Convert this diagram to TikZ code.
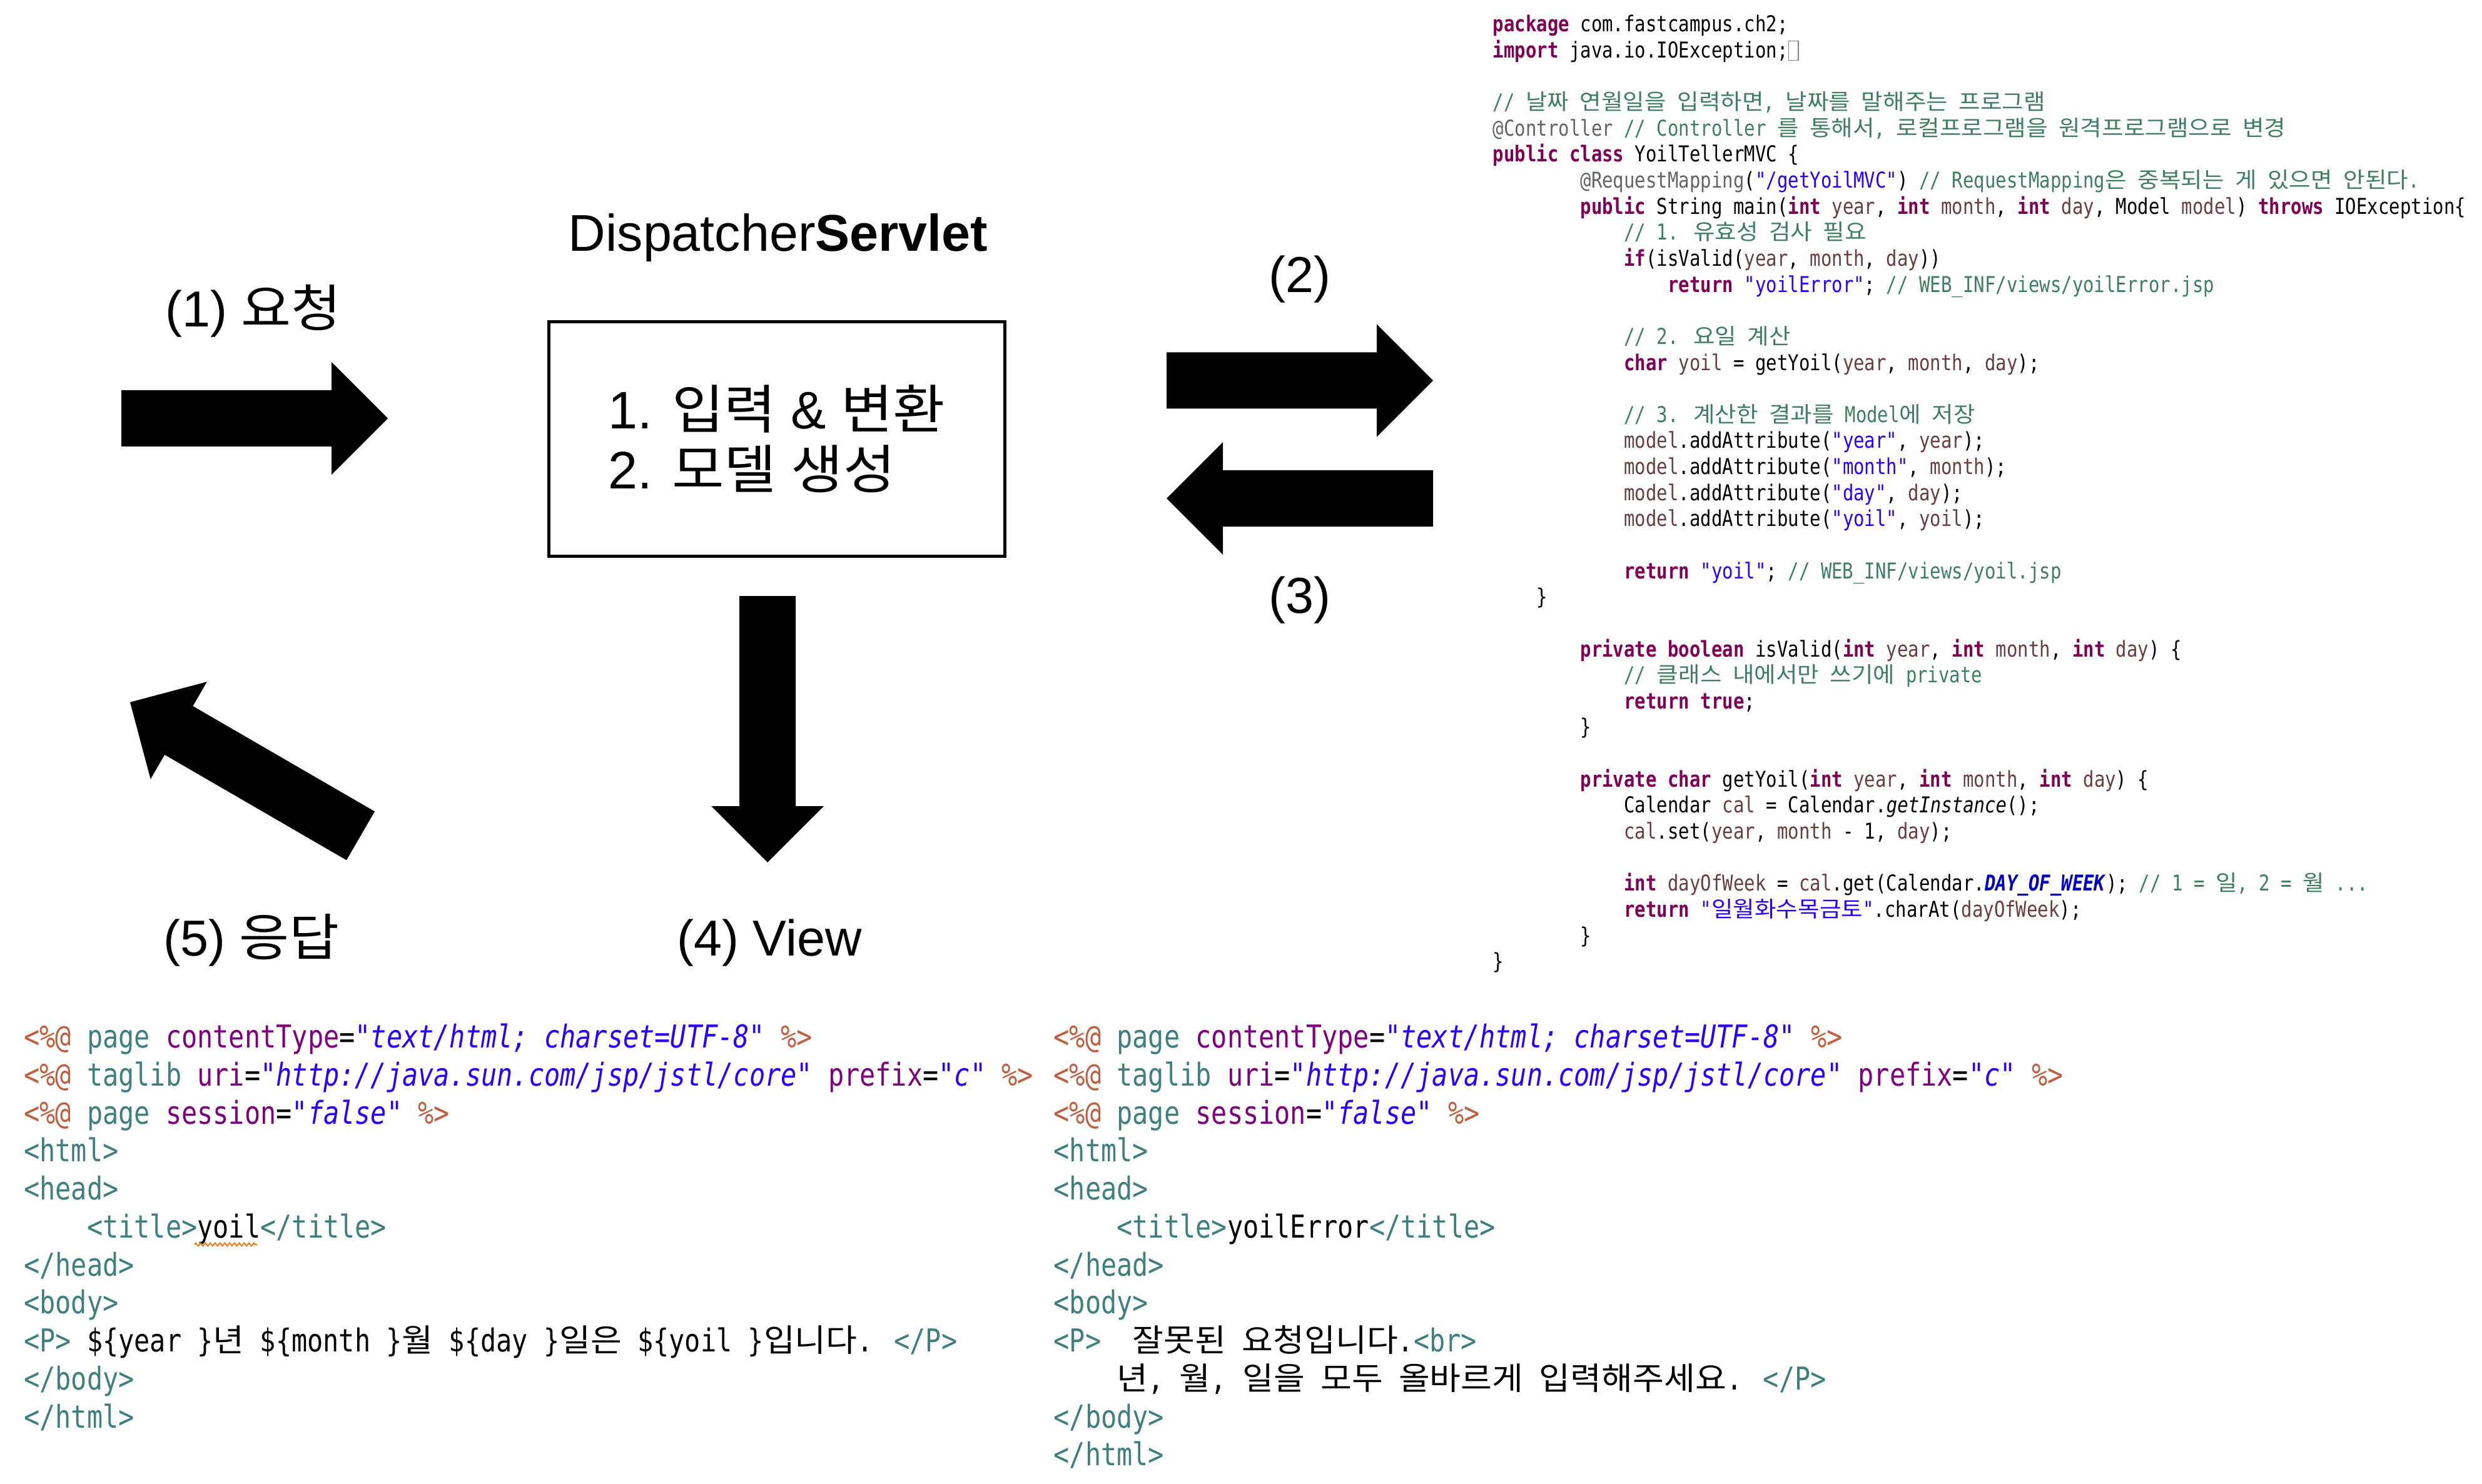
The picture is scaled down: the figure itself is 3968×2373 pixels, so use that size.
\documentclass[tikz,border=0pt]{standalone}
\usepackage{fontspec}
\setmainfont{Liberation Sans}
\newfontfamily\codefont[FakeStretch=0.8305, Ligatures=TeXOff]{DejaVu Sans Mono}
\newfontfamily\krfont[FakeStretch=1.075]{Noto Sans CJK KR}
\usetikzlibrary{positioning, decorations.pathmorphing}

% eclipse colours
\definecolor{kwcol}{HTML}{7F0055}
\definecolor{cmcol}{HTML}{3F7F5F}
\definecolor{strcol}{HTML}{2A00FF}
\definecolor{anncol}{HTML}{646464}
\definecolor{varcol}{HTML}{6A3E3E}
\definecolor{fldcol}{HTML}{0000C0}
\definecolor{dircol}{HTML}{BF5F3F}
\definecolor{tagcol}{HTML}{3F7F7F}
\definecolor{attcol}{HTML}{7F007F}

\newcommand\kr[1]{{\krfont #1}}
\newcommand\ind[1]{\hspace*{#1\fontcharwd\font`0}}
\newcommand\jkw[1]{\textcolor{kwcol}{\textbf{#1}}}
\newcommand\jcm[1]{\textcolor{cmcol}{#1}}
\newcommand\jstr[1]{\textcolor{strcol}{#1}}
\newcommand\jann[1]{\textcolor{anncol}{#1}}
\newcommand\jvar[1]{\textcolor{varcol}{#1}}
\newcommand\jfld[1]{\textcolor{fldcol}{\textbf{\textit{#1}}}}
\newcommand\jspdir[1]{\textcolor{dircol}{#1}}
\newcommand\jspkw[1]{\textcolor{tagcol}{#1}}
\newcommand\jspatt[1]{\textcolor{attcol}{#1}}
\newcommand\jspval[1]{\textcolor{strcol}{\textit{#1}}}
\newcommand\jsptag[1]{\textcolor{tagcol}{#1}}
\newcommand\foldmark{\textcolor{gray}{\fboxsep=0pt\fboxrule=0.4pt\raisebox{-1pt}{\fbox{\rule{0pt}{8.5pt}\hspace{4pt}}}}}

\begin{document}
\begin{tikzpicture}[x=0.01cm, y=-0.01cm,
    numlabel/.style={font=\fontsize{23pt}{27.3pt}\selectfont, inner sep=0pt, anchor=base},
    servtitle/.style={font=\fontsize{23.5pt}{28pt}\selectfont, inner sep=0pt, anchor=base},
    servbox/.style={draw, line width=1.4pt, minimum width=7.29cm, minimum height=3.75cm,
        align=left, font=\fontsize{24pt}{27.3pt}\selectfont},
    javacode/.style={anchor=north west, inner sep=0pt, align=left,
        font=\fontsize{9.94pt}{11.84pt}\codefont},
    jspcode/.style={anchor=north west, inner sep=0pt, align=left,
        font=\fontsize{14.34pt}{17.27pt}\codefont},
    fatarrow/.pic={\fill (0,-45) -- (336,-45) -- (336,-90) -- (426,0) -- (336,90) -- (336,45) -- (0,45) -- cycle;},
    spellmark/.style={draw=orange!85!red, line width=0.5pt, decorate,
        decoration={zigzag, segment length=2.2pt, amplitude=0.7pt}}
]
    \fill[white] (0,0) rectangle (3968,2373);
    \useasboundingbox (0,0) rectangle (3968,2373);

    % dispatcher servlet
    \node[servbox] (servlet) at (1242,702) {1. \kr{입력} \& \kr{변환}\\2. \kr{모델} \kr{생성}};
    \node[servtitle] (servname) at (1244,402) {Dispatcher\textbf{Servlet}};

    % request / controller / view / response
    \pic (reqarrow) at (194,669) {fatarrow};
    \node[numlabel] (reqlabel) at (405,523) {(1) \kr{요청}};
    \pic (toctrl) at (1865,608.5) {fatarrow};
    \node[numlabel] (ctrllabel) at (2078,468) {(2)};
    \pic[rotate=180] (fromctrl) at (2291,797) {fatarrow};
    \node[numlabel] (backlabel) at (2078,980) {(3)};
    \pic[rotate=-90] (viewarrow) at (1227,953) {fatarrow};
    \node[numlabel] (viewlabel) at (1230,1528) {(4) View};
    \pic[rotate=149.9] (resarrow) at (576.5,1336.5) {fatarrow};
    \node[numlabel] (reslabel) at (402,1528) {(5) \kr{응답}};

    % controller source
    \node[javacode] (yoilctrl) at (2386,20.9) {%
        \strut\jkw{package} com.fastcampus.ch2;\\
        \jkw{import} java.io.IOException;\foldmark\\
        \\
        \jcm{// \kr{날짜} \kr{연월일을} \kr{입력하면}, \kr{날짜를} \kr{말해주는} \kr{프로그램}}\\
        \jann{@Controller} \jcm{// Controller \kr{를} \kr{통해서}, \kr{로컬프로그램을} \kr{원격프로그램으로} \kr{변경}}\\
        \jkw{public} \jkw{class} YoilTellerMVC \{\\
        \ind{8}\jann{@RequestMapping}(\jstr{"/getYoilMVC"}) \jcm{// RequestMapping\kr{은} \kr{중복되는} \kr{게} \kr{있으면} \kr{안된다}.}\\
        \ind{8}\jkw{public} String main(\jkw{int} \jvar{year}, \jkw{int} \jvar{month}, \jkw{int} \jvar{day}, Model \jvar{model}) \jkw{throws} IOException\{\\
        \ind{12}\jcm{// 1. \kr{유효성} \kr{검사} \kr{필요}}\\
        \ind{12}\jkw{if}(isValid(\jvar{year}, \jvar{month}, \jvar{day}))\\
        \ind{16}\jkw{return} \jstr{"yoilError"}; \jcm{// WEB\_INF/views/yoilError.jsp}\\
        \\
        \ind{12}\jcm{// 2. \kr{요일} \kr{계산}}\\
        \ind{12}\jkw{char} \jvar{yoil} = getYoil(\jvar{year}, \jvar{month}, \jvar{day});\\
        \\
        \ind{12}\jcm{// 3. \kr{계산한} \kr{결과를} Model\kr{에} \kr{저장}}\\
        \ind{12}\jvar{model}.addAttribute(\jstr{"year"}, \jvar{year});\\
        \ind{12}\jvar{model}.addAttribute(\jstr{"month"}, \jvar{month});\\
        \ind{12}\jvar{model}.addAttribute(\jstr{"day"}, \jvar{day});\\
        \ind{12}\jvar{model}.addAttribute(\jstr{"yoil"}, \jvar{yoil});\\
        \\
        \ind{12}\jkw{return} \jstr{"yoil"}; \jcm{// WEB\_INF/views/yoil.jsp}\\
        \ind{4}\}\\
        \\
        \ind{8}\jkw{private} \jkw{boolean} isValid(\jkw{int} \jvar{year}, \jkw{int} \jvar{month}, \jkw{int} \jvar{day}) \{\\
        \ind{12}\jcm{// \kr{클래스} \kr{내에서만} \kr{쓰기에} private}\\
        \ind{12}\jkw{return} \jkw{true};\\
        \ind{8}\}\\
        \\
        \ind{8}\jkw{private} \jkw{char} getYoil(\jkw{int} \jvar{year}, \jkw{int} \jvar{month}, \jkw{int} \jvar{day}) \{\\
        \ind{12}Calendar \jvar{cal} = Calendar.\textit{getInstance}();\\
        \ind{12}\jvar{cal}.set(\jvar{year}, \jvar{month} - 1, \jvar{day});\\
        \\
        \ind{12}\jkw{int} \jvar{dayOfWeek} = \jvar{cal}.get(Calendar.\jfld{DAY\_OF\_WEEK}); \jcm{// 1 = \kr{일}, 2 = \kr{월} ...}\\
        \ind{12}\jkw{return} \jstr{"\kr{일월화수목금토}"}.charAt(\jvar{dayOfWeek});\\
        \ind{8}\}\\
        \}};

    % yoil.jsp
    \node[jspcode] (yoiljsp) at (37.5,1632.5) {%
        \strut\jspdir{<\%@} \jspkw{page} \jspatt{contentType}=\jspval{"text/html; charset=UTF-8"} \jspdir{\%>}\\
        \jspdir{<\%@} \jspkw{taglib} \jspatt{uri}=\jspval{"http://java.sun.com/jsp/jstl/core"} \jspatt{prefix}=\jspval{"c"} \jspdir{\%>}\\
        \jspdir{<\%@} \jspkw{page} \jspatt{session}=\jspval{"false"} \jspdir{\%>}\\
        \jsptag{<html>}\\
        \jsptag{<head>}\\
        \ind{4}\jsptag{<title>}yoil\jsptag{</title>}\\
        \jsptag{</head>}\\
        \jsptag{<body>}\\
        \jsptag{<P>} \$\{year \}\kr{년} \$\{month \}\kr{월} \$\{day \}\kr{일은} \$\{yoil \}\kr{입니다}. \jsptag{</P>}\\
        \jsptag{</body>}\\
        \jsptag{</html>}};
    \draw[spellmark] (311,1990) -- (411,1990);

    % yoilError.jsp
    \node[jspcode] (errorjsp) at (1684,1632.5) {%
        \strut\jspdir{<\%@} \jspkw{page} \jspatt{contentType}=\jspval{"text/html; charset=UTF-8"} \jspdir{\%>}\\
        \jspdir{<\%@} \jspkw{taglib} \jspatt{uri}=\jspval{"http://java.sun.com/jsp/jstl/core"} \jspatt{prefix}=\jspval{"c"} \jspdir{\%>}\\
        \jspdir{<\%@} \jspkw{page} \jspatt{session}=\jspval{"false"} \jspdir{\%>}\\
        \jsptag{<html>}\\
        \jsptag{<head>}\\
        \ind{4}\jsptag{<title>}yoilError\jsptag{</title>}\\
        \jsptag{</head>}\\
        \jsptag{<body>}\\
        \jsptag{<P>}\ind{2}\kr{잘못된} \kr{요청입니다}.\jsptag{<br>}\\
        \ind{4}\kr{년}, \kr{월}, \kr{일을} \kr{모두} \kr{올바르게} \kr{입력해주세요}. \jsptag{</P>}\\
        \jsptag{</body>}\\
        \jsptag{</html>}};
\end{tikzpicture}
\end{document}
